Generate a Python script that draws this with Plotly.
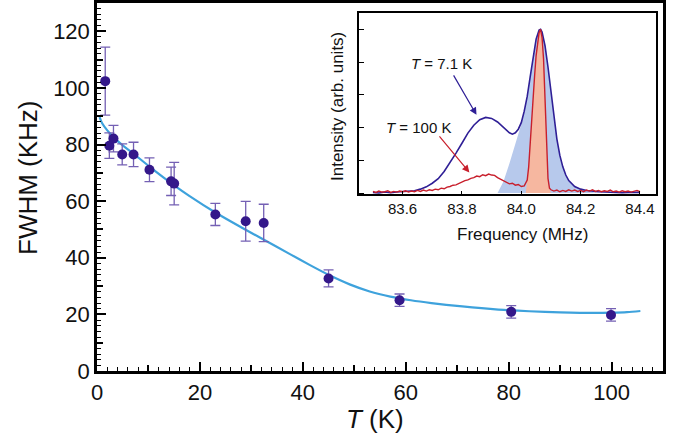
import plotly.graph_objects as go

# ---------------- main panel data ----------------
temp_K = [1.6, 2.4, 3.2, 4.9, 7.1, 10.2, 14.4, 15.0, 23.0, 28.9, 32.4, 45.0, 58.8, 80.5, 99.9]
fwhm_kHz = [102.4, 79.6, 82.1, 76.5, 76.5, 71.1, 67.0, 66.2, 55.3, 52.9, 52.3, 32.7, 25.0, 20.9, 19.8]
fwhm_err = [12.0, 4.5, 4.7, 3.7, 4.3, 4.2, 5.0, 7.5, 3.9, 7.0, 6.6, 3.0, 2.2, 2.2, 2.2]

fit_T = [0.5, 1, 2, 3.5, 5, 7, 10, 15, 18, 23, 28, 32, 37.5, 41.4, 45.2, 49.1, 53, 57,
         61, 65, 71, 78, 84, 90, 97, 100, 103, 105.6]
fit_fwhm = [89.7, 87.5, 85.0, 82.1, 79.7, 76.9, 72.5, 65.6, 61.8, 56.0, 50.8, 46.8, 41.3, 37.4,
            33.8, 30.6, 28.1, 26.3, 25.0, 24.0, 22.8, 21.7, 21.1, 20.7, 20.5, 20.6, 20.8, 21.2]

# ---------------- inset data ----------------
freq_71K = [83.50, 83.52, 83.54, 83.56, 83.58, 83.60, 83.62, 83.64, 83.66, 83.68, 83.70, 83.72,
            83.74, 83.76, 83.78, 83.80, 83.82, 83.84, 83.86, 83.88, 83.90, 83.92, 83.94, 83.96,
            83.97, 83.98, 83.99, 84.00, 84.01, 84.02, 84.03, 84.04, 84.05, 84.06, 84.065, 84.07,
            84.08, 84.09, 84.10, 84.11, 84.12, 84.13, 84.14, 84.15, 84.16, 84.18, 84.20, 84.22,
            84.24, 84.26, 84.28, 84.30, 84.32, 84.34, 84.36, 84.38, 84.40]
int_71K = [0.02, 0.00, 0.03, 0.01, 0.03, 0.04, 0.05, 0.07, 0.12, 0.19, 0.30, 0.44,
           0.66, 0.93, 1.22, 1.52, 1.83, 2.07, 2.24, 2.31, 2.28, 2.17, 2.00, 1.84,
           1.80, 1.84, 1.95, 2.15, 2.50, 2.95, 3.55, 4.20, 4.70, 4.98, 5.00, 4.92,
           4.50, 3.85, 3.05, 2.30, 1.65, 1.15, 0.80, 0.55, 0.38, 0.20, 0.12, 0.08,
           0.05, 0.04, 0.03, 0.02, 0.03, 0.01, 0.02, 0.01, 0.02]

freq_fill71 = [83.92, 83.94, 83.96, 83.98, 84.00, 84.01, 84.02, 84.03, 84.04, 84.05, 84.06, 84.065,
               84.07, 84.08, 84.09, 84.10, 84.11, 84.12, 84.13, 84.14, 84.15, 84.16, 84.18, 84.20,
               84.22, 84.24, 84.26]
int_fill71 = [0.00, 0.35, 0.90, 1.50, 2.10, 2.50, 2.95, 3.55, 4.20, 4.70, 4.98, 5.00,
              4.92, 4.50, 3.85, 3.05, 2.30, 1.65, 1.15, 0.80, 0.55, 0.38, 0.20, 0.12,
              0.06, 0.03, 0.00]

freq_100K = [83.50, 83.51, 83.52, 83.53, 83.54, 83.55, 83.56, 83.57, 83.58, 83.59, 83.60, 83.61,
             83.62, 83.63, 83.64, 83.65, 83.66, 83.67, 83.68, 83.69, 83.70, 83.71, 83.72, 83.73,
             83.74, 83.75, 83.76, 83.77, 83.78, 83.79, 83.80, 83.81, 83.82, 83.83, 83.84, 83.85,
             83.86, 83.87, 83.88, 83.89, 83.90, 83.91, 83.92, 83.93, 83.94, 83.95, 83.96, 83.97,
             83.98, 83.99, 84.00, 84.01, 84.015, 84.02, 84.025, 84.03, 84.035, 84.04, 84.045, 84.05,
             84.055, 84.06, 84.065, 84.07, 84.075, 84.08, 84.085, 84.09, 84.095, 84.10, 84.11, 84.12,
             84.13, 84.14, 84.15, 84.16, 84.17, 84.18, 84.19, 84.20, 84.21, 84.22, 84.23, 84.24,
             84.25, 84.26, 84.27, 84.28, 84.29, 84.30, 84.31, 84.32, 84.33, 84.34, 84.35, 84.36,
             84.37, 84.38, 84.39, 84.40]
int_100K = [0.05, 0.02, 0.06, 0.03, 0.04, 0.07, 0.02, 0.05, 0.03, 0.06, 0.04, 0.07,
            0.03, 0.06, 0.04, 0.08, 0.05, 0.09, 0.06, 0.10, 0.08, 0.12, 0.10, 0.15,
            0.13, 0.18, 0.20, 0.24, 0.25, 0.30, 0.33, 0.38, 0.40, 0.45, 0.47, 0.52,
            0.50, 0.56, 0.53, 0.58, 0.55, 0.54, 0.47, 0.42, 0.37, 0.32, 0.28, 0.30,
            0.24, 0.26, 0.20, 0.22, 0.30, 0.40, 0.80, 1.60, 2.40, 2.90, 3.60, 4.20,
            4.60, 4.90, 5.00, 4.75, 4.10, 2.90, 1.50, 0.45, 0.15, 0.10, 0.06, 0.09,
            0.04, 0.08, 0.05, 0.10, 0.06, 0.09, 0.05, 0.08, 0.04, 0.09, 0.06, 0.10,
            0.05, 0.08, 0.04, 0.07, 0.05, 0.09, 0.04, 0.06, 0.03, 0.07, 0.04, 0.06,
            0.03, 0.05, 0.08, 0.04]

freq_fill100 = [84.015, 84.02, 84.025, 84.03, 84.035, 84.04, 84.045, 84.05, 84.055, 84.06,
                84.065, 84.07, 84.075, 84.08, 84.085, 84.09, 84.095, 84.10]
int_fill100 = [0.00, 0.40, 0.80, 1.60, 2.40, 2.90, 3.60, 4.20, 4.60, 4.90,
               5.00, 4.75, 4.10, 2.90, 1.50, 0.45, 0.15, 0.00]

inset_xticks = [83.6, 83.8, 84.0, 84.2, 84.4]

FONT = "Liberation Sans, Arial, Helvetica, sans-serif"
MARK = "#34188a"
ERRC = "#7460b4"
FITC = "#3ea2dc"
BLUE = "#2f1f96"
RED = "#c81f2c"

fig = go.Figure()

# ---- main panel ----
fig.add_trace(go.Scatter(x=fit_T, y=fit_fwhm, mode="lines", line=dict(color=FITC, width=2.2, shape="spline", smoothing=0.8),
                         xaxis="x", yaxis="y", hoverinfo="skip", showlegend=False))
fig.add_trace(go.Scatter(x=temp_K, y=fwhm_kHz, mode="markers",
                         marker=dict(color=MARK, size=10, line=dict(width=0)),
                         error_y=dict(type="data", array=fwhm_err, visible=True, color=ERRC, thickness=1.3, width=5),
                         xaxis="x", yaxis="y", showlegend=False))
# invisible trace for medium-tick overlay axes
fig.add_trace(go.Scatter(x=[None], y=[None], xaxis="x3", yaxis="y3", showlegend=False, hoverinfo="skip"))

# ---- inset ----
fig.add_trace(go.Scatter(x=freq_fill71, y=int_fill71, mode="lines", fill="tozeroy", fillcolor="#b7c9ec",
                         line=dict(width=0, color="#b7c9ec"), xaxis="x2", yaxis="y2", showlegend=False, hoverinfo="skip"))
fig.add_trace(go.Scatter(x=freq_fill100, y=int_fill100, mode="lines", fill="tozeroy", fillcolor="#f6b7a0",
                         line=dict(width=0, color="#f6b7a0"), xaxis="x2", yaxis="y2", showlegend=False, hoverinfo="skip"))
fig.add_trace(go.Scatter(x=freq_71K, y=int_71K, mode="lines", line=dict(color=BLUE, width=1.6),
                         xaxis="x2", yaxis="y2", showlegend=False))
fig.add_trace(go.Scatter(x=freq_100K, y=int_100K, mode="lines", line=dict(color=RED, width=1.4),
                         xaxis="x2", yaxis="y2", showlegend=False))

axis_common = dict(showgrid=False, zeroline=False, showline=True, linecolor="black", mirror=True, automargin=False)

fig.update_layout(
    width=676, height=446,
    margin=dict(l=97, r=13, t=3, b=75, autoexpand=False),
    paper_bgcolor="white", plot_bgcolor="white",
    font=dict(family=FONT, color="#111111"),
    hovermode=False,
    xaxis=dict(**axis_common, range=[0, 110], domain=[0, 1], anchor="y", linewidth=2.5,
               tick0=0, dtick=20, ticks="inside", ticklen=9, tickwidth=2, tickcolor="black",
               tickfont=dict(size=22, family=FONT, color="#111111"),
               minor=dict(dtick=2, ticks="inside", ticklen=4, tickwidth=1.3, tickcolor="black")),
    yaxis=dict(**axis_common, range=[0, 130], domain=[0, 1], anchor="x", linewidth=2.5,
               tick0=0, dtick=20, ticks="inside", ticklen=9, tickwidth=2, tickcolor="black",
               tickfont=dict(size=22, family=FONT, color="#111111"),
               minor=dict(dtick=2, ticks="inside", ticklen=4, tickwidth=1.3, tickcolor="black")),
    xaxis3=dict(overlaying="x", range=[0, 110], anchor="y3", showgrid=False, zeroline=False, showline=False,
                automargin=False, tick0=0, dtick=10, ticks="inside", ticklen=6, tickwidth=1.5, tickcolor="black",
                showticklabels=False),
    yaxis3=dict(overlaying="y", range=[0, 130], anchor="x3", showgrid=False, zeroline=False, showline=False,
                automargin=False, tick0=0, dtick=10, ticks="inside", ticklen=6, tickwidth=1.5, tickcolor="black",
                showticklabels=False),
    xaxis2=dict(**axis_common, range=[83.454, 84.454], domain=[0.4634, 0.9876], anchor="y2", linewidth=1.5,
                tickvals=inset_xticks, tickformat=".1f", ticks="inside", ticklen=4, tickwidth=1.2, tickcolor="black",
                tickfont=dict(size=15, family=FONT, color="#111111")),
    yaxis2=dict(**axis_common, range=[-0.04, 5.49], domain=[0.480, 0.972], anchor="x2", linewidth=1.5,
                tick0=0, dtick=1, ticks="inside", ticklen=5, tickwidth=1.2, tickcolor="black",
                showticklabels=False),
)

annotations = [
    dict(text="FWHM (KHz)", xref="paper", yref="paper", x=-0.1219, y=0.5245, textangle=-90,
         showarrow=False, xanchor="center", yanchor="middle", font=dict(size=26, family=FONT, color="#111111")),
    dict(text="<i>T</i> (K)", xref="paper", yref="paper", x=0.491, y=-0.1304,
         showarrow=False, xanchor="center", yanchor="middle", font=dict(size=26, family=FONT, color="#111111")),
    dict(text="Intensity (arb. units)", xref="paper", yref="paper", x=0.4258, y=0.7174, textangle=-90,
         showarrow=False, xanchor="center", yanchor="middle", font=dict(size=17, family=FONT, color="#111111")),
    dict(text="Frequency (MHz)", xref="paper", yref="paper", x=0.7509, y=0.3696,
         showarrow=False, xanchor="center", yanchor="middle", font=dict(size=17, family=FONT, color="#111111")),
    dict(text="<i>T</i> = 7.1 K", xref="x2", yref="y2", x=83.731, y=3.97,
         showarrow=False, xanchor="center", yanchor="middle", font=dict(size=15, family=FONT, color="#111111")),
    dict(text="<i>T</i> = 100 K", xref="x2", yref="y2", x=83.652, y=2.0,
         showarrow=False, xanchor="center", yanchor="middle", font=dict(size=15, family=FONT, color="#111111")),
    dict(text="", xref="x2", yref="y2", x=83.849, y=2.39, axref="x2", ayref="y2", ax=83.769, ay=3.64,
         showarrow=True, arrowhead=2, arrowsize=1.2, arrowwidth=1.2, arrowcolor=BLUE),
    dict(text="", xref="x2", yref="y2", x=83.825, y=0.63, axref="x2", ayref="y2", ax=83.720, ay=1.78,
         showarrow=True, arrowhead=2, arrowsize=1.2, arrowwidth=1.2, arrowcolor=RED),
]
fig.update_layout(annotations=annotations)

fig.write_html("out.html", config={"displayModeBar": False},
               post_script="document.body.style.margin='0';")
